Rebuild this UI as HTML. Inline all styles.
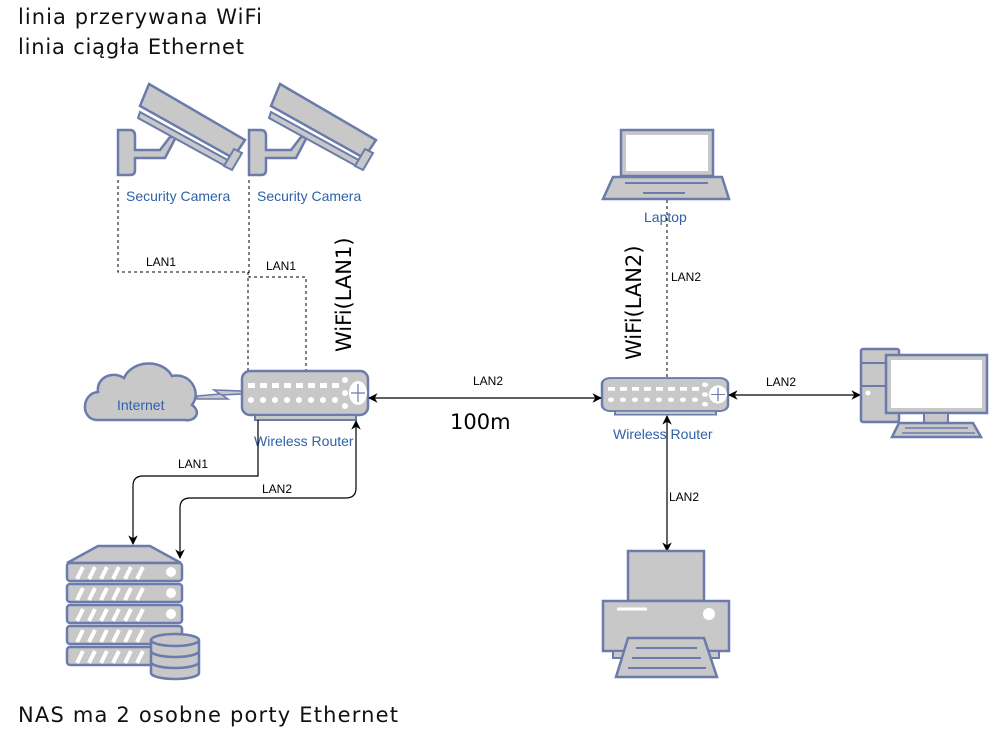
<!DOCTYPE html>
<html><head><meta charset="utf-8"><style>body{margin:0;background:#fff}svg{display:block}</style></head><body>
<svg width="1005" height="754" viewBox="0 0 1005 754" xmlns="http://www.w3.org/2000/svg" font-family="Liberation Sans, sans-serif">
<defs>
<marker id="a" viewBox="0 0 10 10" refX="9" refY="5" markerWidth="8" markerHeight="8" orient="auto-start-reverse"><path d="M0,0 L10,5 L0,10 L3,5 z" fill="#000"/></marker>
<g id="cam">
<path d="M118,130 L130,130 Q135,130 135,136 L135,150 L160,150 L170,137 L176,137 L165,158 L135,158 L135,170 Q135,175 130,175 L118,175 Z" fill="#c8c8c8" stroke="#6b7bab" stroke-width="2.5"/>
<path d="M149,84 L245,140 L233,158 L140,106 Z" fill="#c8c8c8" stroke="#6b7bab" stroke-width="2.5"/>
<path d="M140,112 L233,163 L227,167 L138,118 Z" fill="#c8c8c8" stroke="#6b7bab" stroke-width="2"/>
<path d="M234,149 L242,153 L232,170 L224,166 Z" fill="#c8c8c8" stroke="#6b7bab" stroke-width="2"/>
</g>
<g id="rt">
<rect x="0" y="0" width="126" height="44" rx="8" fill="#c8c8c8" stroke="#6b7bab" stroke-width="2.5"/>
<rect x="13" y="44" width="101" height="5" fill="#c8c8c8" stroke="#6b7bab" stroke-width="2"/>
<g fill="#fff"><rect x="6" y="12" width="7" height="5"/><rect x="18" y="12" width="7" height="5"/><rect x="30" y="12" width="7" height="5"/><rect x="42" y="12" width="7" height="5"/><rect x="54" y="12" width="7" height="5"/><rect x="66" y="12" width="7" height="5"/><rect x="78" y="12" width="7" height="5"/><rect x="90" y="12" width="7" height="5"/>
<circle cx="9" cy="29" r="3"/><circle cx="21" cy="29" r="3"/><circle cx="33" cy="29" r="3"/><circle cx="45" cy="29" r="3"/><circle cx="57" cy="29" r="3"/><circle cx="69" cy="29" r="3"/><circle cx="81" cy="29" r="3"/><circle cx="93" cy="29" r="3"/>
<circle cx="103" cy="9" r="3"/><circle cx="103" cy="22" r="3"/><circle cx="103" cy="35" r="3"/><ellipse cx="116" cy="22" rx="9" ry="12"/></g>
<path d="M116,13 V31 M109,22 H123" stroke="#6b7bab" stroke-width="1.2"/>
</g>
</defs>
<g font-family="DejaVu Sans, sans-serif" font-size="21" fill="#111">
<text x="18" y="24" textLength="244">linia przerywana WiFi</text>
<text x="18" y="54" textLength="226">linia ciągła Ethernet</text>
<text x="18" y="722" textLength="380">NAS ma 2 osobne porty Ethernet</text>
</g>
<use href="#cam"/><use href="#cam" transform="translate(131,0)"/>
<!-- cloud -->
<path d="M96,420 C80,418 82,393 98,392 C96,378 112,370 124,378 C132,360 162,358 172,376 C190,372 202,392 192,405 C202,412 195,422 185,420 Z" fill="#c8c8c8" stroke="#6b7bab" stroke-width="2.5"/>
<path d="M197,396 L220,394 L214,390 L242,391 L242,394 L222,395 L228,399 L197,399 Z" fill="#c8c8c8" stroke="#6b7bab" stroke-width="1.5"/>
<g font-size="14" fill="#2f62a8">
<text x="126" y="201">Security Camera</text><text x="257" y="201">Security Camera</text>
<text x="117" y="410">Internet</text>
<text x="254" y="446">Wireless Router</text>
<text x="613" y="439">Wireless Router</text>
<text x="644" y="222">Laptop</text>
</g>
<!-- dashed -->
<g fill="none" stroke="#000" stroke-width="1" stroke-dasharray="3,3">
<path d="M118,180 V272 H248 V372"/>
<path d="M249,180 V277 H306 V372"/>
<path d="M667,200 V378"/>
</g>
<g font-size="12" fill="#000">
<text x="146" y="266">LAN1</text><text x="266" y="270">LAN1</text>
<text x="671" y="281">LAN2</text><text x="473" y="385">LAN2</text>
<text x="766" y="386">LAN2</text><text x="669" y="501">LAN2</text>
<text x="178" y="468">LAN1</text><text x="262" y="493">LAN2</text>
</g>
<text x="450" y="429" font-size="21" font-family="DejaVu Sans, sans-serif">100m</text>
<text transform="translate(351,352) rotate(-90)" font-size="21" font-family="DejaVu Sans, sans-serif">WiFi(LAN1)</text>
<text transform="translate(641,360) rotate(-90)" font-size="21" font-family="DejaVu Sans, sans-serif">WiFi(LAN2)</text>
<use href="#rt" transform="translate(242,371)"/>
<use href="#rt" transform="translate(602,378) scale(1,0.75)"/>
<!-- ethernet -->
<g fill="none" stroke="#000" stroke-width="1.2">
<path d="M369,398 H601" marker-start="url(#a)" marker-end="url(#a)"/>
<path d="M729,395 H860" marker-start="url(#a)" marker-end="url(#a)"/>
<path d="M667,416 V551" marker-start="url(#a)" marker-end="url(#a)"/>
<path d="M258,420 V476 H143 Q133,476 133,486 V544" marker-end="url(#a)"/>
<path d="M180,558 V508 Q180,498 190,498 H346 Q356,498 356,488 V421" marker-start="url(#a)" marker-end="url(#a)"/>
</g>
<!-- laptop -->
<rect x="621" y="130" width="92" height="46" fill="#c8c8c8" stroke="#6b7bab" stroke-width="2.5"/>
<rect x="626" y="135" width="82" height="36" fill="#fff"/>
<path d="M613,177 H722 L729,199 H603 Z" fill="#c8c8c8" stroke="#6b7bab" stroke-width="2.5"/>
<path d="M625,183 H708 M643,193 H685" stroke="#6b7bab" stroke-width="2"/>
<!-- pc -->
<rect x="861" y="349" width="38" height="73" rx="2" fill="#c8c8c8" stroke="#6b7bab" stroke-width="2.5"/>
<path d="M861,363 H899 M861,386 H899" stroke="#6b7bab" stroke-width="2"/>
<circle cx="868" cy="393" r="2.5" fill="#fff"/>
<rect x="886" y="355" width="101" height="58" fill="#c8c8c8" stroke="#6b7bab" stroke-width="2.5"/>
<rect x="891" y="360" width="91" height="48" fill="#fff"/>
<rect x="924" y="413" width="24" height="10" fill="#c8c8c8" stroke="#6b7bab" stroke-width="2"/>
<path d="M899,423 H973 L981,437 H892 Z" fill="#c8c8c8" stroke="#6b7bab" stroke-width="2.5"/>
<path d="M905,428 H968 M902,433 H975" stroke="#6b7bab" stroke-width="1.5"/>
<!-- printer -->
<rect x="628" y="551" width="76" height="50" fill="#c8c8c8" stroke="#6b7bab" stroke-width="2.5"/>
<rect x="603" y="601" width="126" height="50" fill="#c8c8c8" stroke="#6b7bab" stroke-width="2.5"/>
<rect x="613" y="651" width="106" height="7" fill="#c8c8c8" stroke="#6b7bab" stroke-width="2"/>
<path d="M617,609 H647" stroke="#fff" stroke-width="3"/>
<circle cx="709" cy="614" r="6" fill="#fff"/>
<path d="M628,638 H704 L717,677 H616 Z" fill="#c8c8c8" stroke="#6b7bab" stroke-width="2.5"/>
<path d="M636,648 H697 M632,658 H701 M628,668 H706" stroke="#6b7bab" stroke-width="2"/>
<!-- NAS -->
<path d="M98,546 H150 L181,563 H67 Z" fill="#c8c8c8" stroke="#6b7bab" stroke-width="2.5"/>
<g fill="#c8c8c8" stroke="#6b7bab" stroke-width="2.5">
<rect x="67" y="563" width="115" height="18" rx="3"/><rect x="67" y="584" width="115" height="18" rx="3"/><rect x="67" y="605" width="115" height="18" rx="3"/><rect x="67" y="626" width="115" height="18" rx="3"/><rect x="67" y="647" width="115" height="18" rx="3"/>
</g>
<g stroke="#fff" stroke-width="4">
<path d="M77,579 L83,567 M89,579 L95,567 M101,579 L107,567 M113,579 L119,567 M125,579 L131,567 M137,579 L143,567"/>
<path d="M77,600 L83,588 M89,600 L95,588 M101,600 L107,588 M113,600 L119,588 M125,600 L131,588 M137,600 L143,588"/>
<path d="M77,621 L83,609 M89,621 L95,609 M101,621 L107,609 M113,621 L119,609 M125,621 L131,609 M137,621 L143,609"/>
<path d="M77,642 L83,630 M89,642 L95,630 M101,642 L107,630 M113,642 L119,630 M125,642 L131,630 M137,642 L143,630"/>
<path d="M77,663 L83,651 M89,663 L95,651 M101,663 L107,651 M113,663 L119,651 M125,663 L131,651 M137,663 L143,651"/>
</g>
<g fill="#fff"><circle cx="171" cy="572" r="5"/><circle cx="171" cy="593" r="5"/><circle cx="171" cy="614" r="5"/></g>
<g fill="#c8c8c8" stroke="#6b7bab" stroke-width="2.5">
<path d="M151,663 V673 A24,6 0 0 0 199,673 V663 Z"/>
<path d="M151,652 V662 A24,6 0 0 0 199,662 V652 Z"/>
<path d="M151,641 V651 A24,6 0 0 0 199,651 V641 Z"/>
<ellipse cx="175" cy="640" rx="24" ry="6"/>
</g>
</svg>
</body></html>
